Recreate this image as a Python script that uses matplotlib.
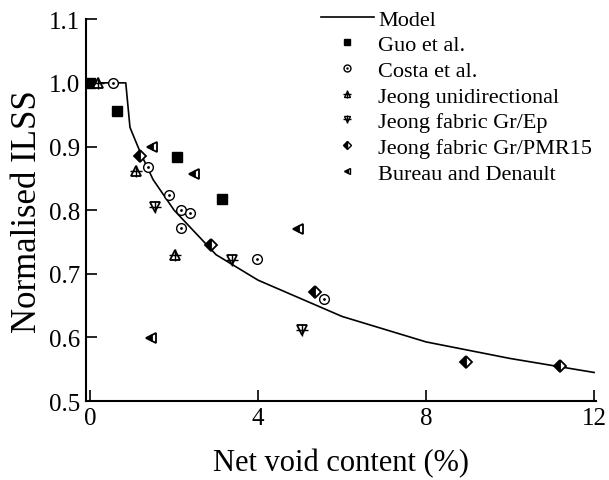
import matplotlib.pyplot as plt
from matplotlib.ticker import FormatStrFormatter
from matplotlib.lines import Line2D

plt.rcParams['font.family'] = ['Liberation Serif', 'DejaVu Serif']

# model curve
model_x = [0, 0.85, 0.95, 1.2, 1.5, 2.0, 2.5, 3.0, 3.5, 4.0, 6.0, 8.0, 10.0, 12.0]
model_y = [1.0, 1.0, 0.93, 0.89, 0.848, 0.80, 0.765, 0.73, 0.71, 0.69, 0.633, 0.593, 0.567, 0.545]

# experimental data
guo_x = [0.0, 0.64, 2.07, 3.13]
guo_y = [1.0, 0.955, 0.884, 0.817]

costa_x = [0.54, 1.39, 1.88, 2.16, 2.38, 2.16, 3.98, 5.58]
costa_y = [1.0, 0.868, 0.824, 0.80, 0.795, 0.772, 0.723, 0.661]

jeong_uni_x = [0.19, 1.1, 2.02]
jeong_uni_y = [1.0, 0.862, 0.73]

jeong_ep_x = [1.55, 3.39, 5.04]
jeong_ep_y = [0.805, 0.722, 0.612]

jeong_pmr_x = [1.2, 2.89, 5.36, 8.94, 11.18]
jeong_pmr_y = [0.885, 0.745, 0.672, 0.562, 0.555]

bureau_x = [1.48, 2.47, 1.46, 4.96]
bureau_y = [0.9, 0.857, 0.599, 0.771]

fig = plt.figure(figsize=(6.09, 4.81), dpi=100)
ax = fig.add_axes([0.141, 0.164, 0.838, 0.794])

ax.plot(model_x, model_y, color='black', linewidth=1.2, label='Model', zorder=2)

ax.plot(guo_x, guo_y, 's', color='black', markersize=6.5, linestyle='none', zorder=3)

# Costa: open circle with a dot in the middle
ax.plot(costa_x, costa_y, 'o', markerfacecolor='white', markeredgecolor='black',
        markersize=7, markeredgewidth=1, linestyle='none', zorder=3)
ax.plot(costa_x, costa_y, '.', color='black', markersize=2, linestyle='none', zorder=4)

# Jeong: triangles with a cross
ax.plot(jeong_uni_x, jeong_uni_y, '^', markerfacecolor='white', markeredgecolor='black',
        markersize=7, markeredgewidth=1.3, linestyle='none', zorder=3)
ax.plot(jeong_uni_x, jeong_uni_y, '+', color='black', markersize=9,
        markeredgewidth=1, linestyle='none', zorder=4)

ax.plot(jeong_ep_x, jeong_ep_y, 'v', markerfacecolor='white', markeredgecolor='black',
        markersize=7, markeredgewidth=1.3, linestyle='none', zorder=3)
ax.plot(jeong_ep_x, jeong_ep_y, '+', color='black', markersize=9,
        markeredgewidth=1, linestyle='none', zorder=4)

ax.plot(jeong_pmr_x, jeong_pmr_y, 'D', color='black', markerfacecoloralt='white',
        fillstyle='left', markersize=6.5, markeredgewidth=1.3, linestyle='none', zorder=3)

ax.plot(bureau_x, bureau_y, '<', color='black', markerfacecoloralt='white',
        fillstyle='left', markersize=7.5, markeredgewidth=1.3, linestyle='none', zorder=3)

# legend handles (smaller markers)
handles = [
    Line2D([], [], color='black', linewidth=1.2),
    Line2D([], [], marker='s', color='black', markersize=4, linestyle='none'),
    (Line2D([], [], marker='o', markerfacecolor='white', markeredgecolor='black',
            markersize=5, linestyle='none'),
     Line2D([], [], marker='.', color='black', markersize=1.5, linestyle='none')),
    (Line2D([], [], marker='^', markerfacecolor='white', markeredgecolor='black',
            markersize=5, linestyle='none'),
     Line2D([], [], marker='+', color='black', markersize=6, linestyle='none')),
    (Line2D([], [], marker='v', markerfacecolor='white', markeredgecolor='black',
            markersize=5, linestyle='none'),
     Line2D([], [], marker='+', color='black', markersize=6, linestyle='none')),
    Line2D([], [], marker='D', color='black', markerfacecoloralt='white', fillstyle='left',
           markersize=4.5, linestyle='none'),
    Line2D([], [], marker='<', color='black', markerfacecoloralt='white', fillstyle='left',
           markersize=5, linestyle='none'),
]
labels = ['Model', 'Guo et al.', 'Costa et al.', 'Jeong unidirectional',
          'Jeong fabric Gr/Ep', 'Jeong fabric Gr/PMR15', 'Bureau and Denault']
ax.legend(handles, labels, loc='upper right', bbox_to_anchor=(1.01, 1.05),
          frameon=False, fontsize=16, handlelength=2.4, handletextpad=0.2,
          labelspacing=0.23, borderaxespad=0.0)

ax.set_xlim(-0.1, 12.05)
ax.set_ylim(0.5, 1.1)
ax.set_xticks([0, 4, 8, 12])
ax.set_yticks([0.5, 0.6, 0.7, 0.8, 0.9, 1.0, 1.1])
ax.yaxis.set_major_formatter(FormatStrFormatter('%.1f'))

ax.spines['top'].set_visible(False)
ax.spines['right'].set_visible(False)
ax.spines['left'].set_linewidth(1.5)
ax.spines['bottom'].set_linewidth(1.5)
ax.tick_params(direction='in', length=8, width=1.2, labelsize=18, pad=4)

ax.set_xlabel('Net void content (%)', fontsize=22, labelpad=14)
ax.set_ylabel('Normalised ILSS', fontsize=25, labelpad=4)

fig.savefig('out.png', dpi=100)
